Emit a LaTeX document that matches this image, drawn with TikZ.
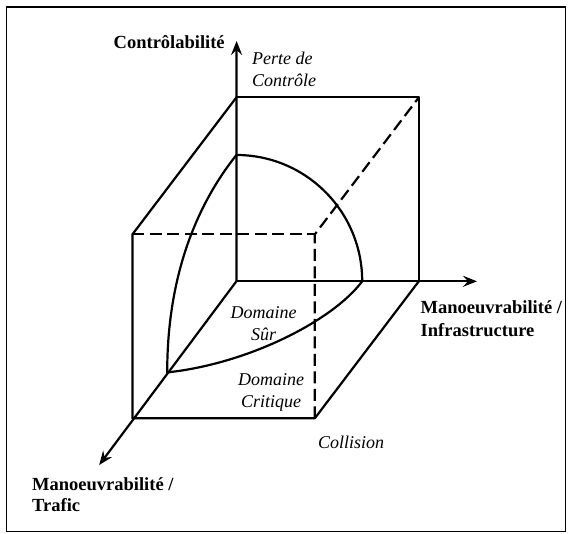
\documentclass[tikz,border=0pt]{standalone}
\usepackage{fontspec}
\setmainfont{Liberation Serif}
\usetikzlibrary{arrows.meta}
\begin{document}
\begin{tikzpicture}[x=1pt,y=-1pt,
  edge/.style={line width=2.2pt,line cap=round,line join=round},
  hidden/.style={line width=2.2pt,dash pattern=on 12pt off 5.5pt},
  axis/.style={line width=2.2pt,-{Stealth[length=14pt,width=11pt,inset=5pt]}},
  axlabel/.style={inner sep=0pt,anchor=base west,font=\fontsize{18.5}{22}\selectfont\bfseries},
  zonelabel/.style={inner sep=0pt,anchor=base,font=\fontsize{18}{22}\selectfont\itshape}]
\useasboundingbox (0,0) rectangle (572,534);
\draw[line width=1.4pt] (6.5,7) rectangle (565.5,531.5);
% corners
\coordinate (O) at (236.4,281.3);
\coordinate (BT) at (236.4,97.4);
\coordinate (BTR) at (418.8,97.4);
\coordinate (BBR) at (418.8,281.3);
\coordinate (FTL) at (132.4,234.4);
\coordinate (FTR) at (314.8,234.4);
\coordinate (FBL) at (132.4,418.3);
\coordinate (FBR) at (314.8,418.3);
\coordinate (Ztip) at (236.6,41);
\coordinate (Xtip) at (477,281.3);
\coordinate (Ytip) at (99.2,465);
\coordinate (At) at (236.4,155);
\coordinate (Ar) at (362.2,281.3);
\coordinate (Af) at (167.2,372.4);
% solid edges
\draw[edge] (BT) -- (BTR) -- (BBR);
\draw[edge] (BT) -- (FTL) -- (FBL) -- (FBR) -- (BBR);
% hidden edges
\draw[hidden] (FTL) -- (FTR);
\draw[hidden] (FBR) -- (FTR) -- (BTR);
% axes
\draw[axis] (O) -- (Ztip);
\draw[axis] (O) -- (Xtip);
\draw[axis] (O) -- (Ytip);
% safe domain boundary
\draw[edge] (At) .. controls (305.9,155) and (362.2,211.5) .. (Ar);
\draw[edge] (At) .. controls (199,202) and (167.2,272) .. (Af);
\draw[edge] (Ar) .. controls (332.2,321.3) and (247,364) .. (Af);
% labels
\node[axlabel] (lc) at (113.5,48.5) {Contrôlabilité};
\node[axlabel] (li1) at (420.5,313.5) {Manoeuvrabilité /};
\node[axlabel] (li2) at (420.5,336) {Infrastructure};
\node[axlabel] (lt1) at (32,490) {Manoeuvrabilité /};
\node[axlabel] (lt2) at (32,511.5) {Trafic};
\node[zonelabel,anchor=base west] (lp1) at (252,65) {Perte de};
\node[zonelabel,anchor=base west] (lp2) at (252,87) {Contrôle};
\node[zonelabel] (ls1) at (263.5,318) {Domaine};
\node[zonelabel] (ls2) at (263.5,340) {Sûr};
\node[zonelabel] (lk1) at (271,385) {Domaine};
\node[zonelabel] (lk2) at (271,407) {Critique};
\node[zonelabel,anchor=base west] (lcol) at (318,448) {Collision};
\end{tikzpicture}
\end{document}
